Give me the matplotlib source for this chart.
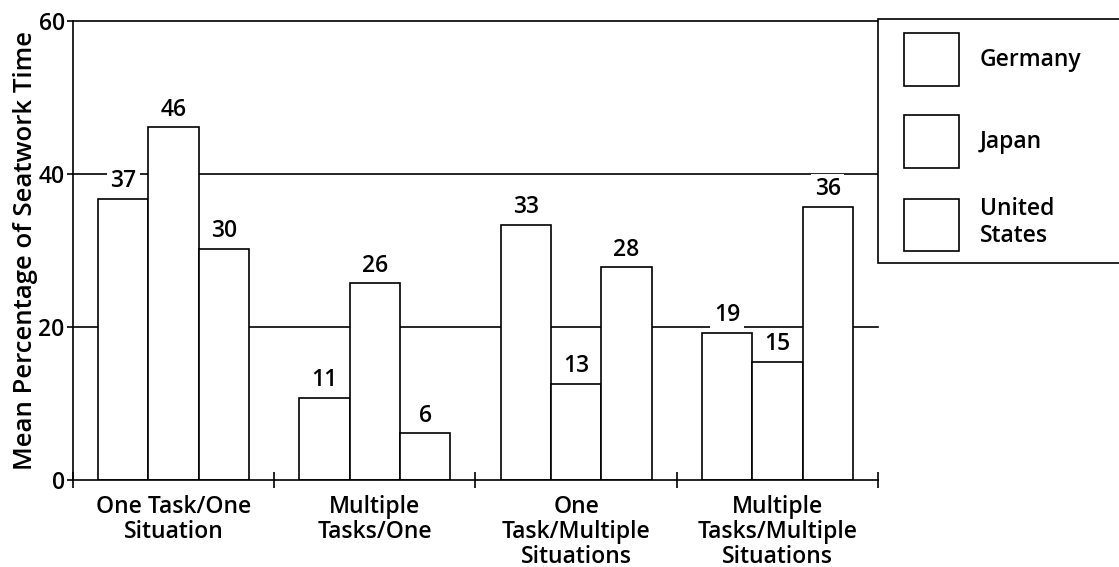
import matplotlib
matplotlib.use('Agg')
import matplotlib.pyplot as plt
import numpy as np
from matplotlib.patches import Patch, Rectangle

# Values (bar heights) - labels are the rounded percentages
CATEGORIES = ['One Task/One\nSituation', 'Multiple\nTasks/One',
              'One\nTask/Multiple\nSituations', 'Multiple\nTasks/Multiple\nSituations']
COUNTRIES = ['Germany', 'Japan', 'United\nStates']
GERMANY = [36.7, 10.7, 33.3, 19.2]
JAPAN   = [46.1, 25.7, 12.6, 15.4]
USA     = [30.2, 6.1, 27.8, 35.7]
Y_TICKS = [0, 20, 40, 60]
GRID_Y  = [20, 40, 60]

FONT = 'Open Sans'
FS = 16.5
LW = 1.2

plt.rcParams['font.family'] = [FONT, 'DejaVu Sans']
plt.rcParams['font.weight'] = 'semibold'
plt.rcParams['axes.labelweight'] = 'semibold'

W, H = 1119, 567
fig = plt.figure(figsize=(W / 100, H / 100), dpi=100)
ax = fig.add_axes([73 / W, 1 - 480 / H, (878 - 73) / W, (480 - 21) / H])

# gridlines behind the white bars
for y in GRID_Y:
    ax.axhline(y, color='black', lw=LW, zorder=1, clip_on=False)

centers = np.arange(len(CATEGORIES)) + 0.5
bar_w = 0.25
for k, vals in enumerate([GERMANY, JAPAN, USA]):
    xs = centers + (k - 1) * bar_w
    ax.bar(xs, vals, width=bar_w, color='white', edgecolor='black',
           linewidth=LW, zorder=2)
    for x, v in zip(xs, vals):
        ax.annotate(f"{v:.0f}", (x, v), xytext=(0, 8.5), textcoords='offset points',
                    ha='center', va='baseline', fontsize=FS, zorder=3,
                    bbox=dict(boxstyle='square,pad=0.15', fc='white', ec='none'))

ax.set_xlim(0, len(CATEGORIES))
ax.set_ylim(0, 60)
for s in ['top', 'right']:
    ax.spines[s].set_visible(False)
for s in ['left', 'bottom']:
    ax.spines[s].set_linewidth(LW)

ax.set_xticks(np.arange(len(CATEGORIES) + 1))
ax.set_xticklabels([])
ax.tick_params(axis='x', which='major', direction='inout', length=11, width=LW)
ax.set_xticks(centers, minor=True)
ax.set_xticklabels(CATEGORIES, minor=True, fontsize=FS, linespacing=1.07)
ax.tick_params(axis='x', which='minor', length=0, pad=10.5)

ax.set_yticks(Y_TICKS)
ax.tick_params(axis='y', direction='out', length=4.5, width=LW, pad=1.5,
               labelsize=FS)
ax.set_ylabel('Mean Percentage of Seatwork Time', fontsize=18.5, labelpad=0)

# legend frame runs off the right edge of the figure
fig.patches.append(Rectangle((878 / W, 1 - 263 / H), 0.5, (263 - 19) / H,
                             transform=fig.transFigure, facecolor='white',
                             edgecolor='black', lw=LW, zorder=1))
handles = [Patch(facecolor='white', edgecolor='black', lw=LW) for _ in COUNTRIES]
fig.legend(handles, COUNTRIES, loc='upper left',
           bbox_to_anchor=(893 / W, 1 - 22 / H), frameon=False, borderpad=0,
           handlelength=2.4, handleheight=3.15, labelspacing=1.27,
           handletextpad=0.9, fontsize=FS)

fig.savefig('out.png', dpi=100)
